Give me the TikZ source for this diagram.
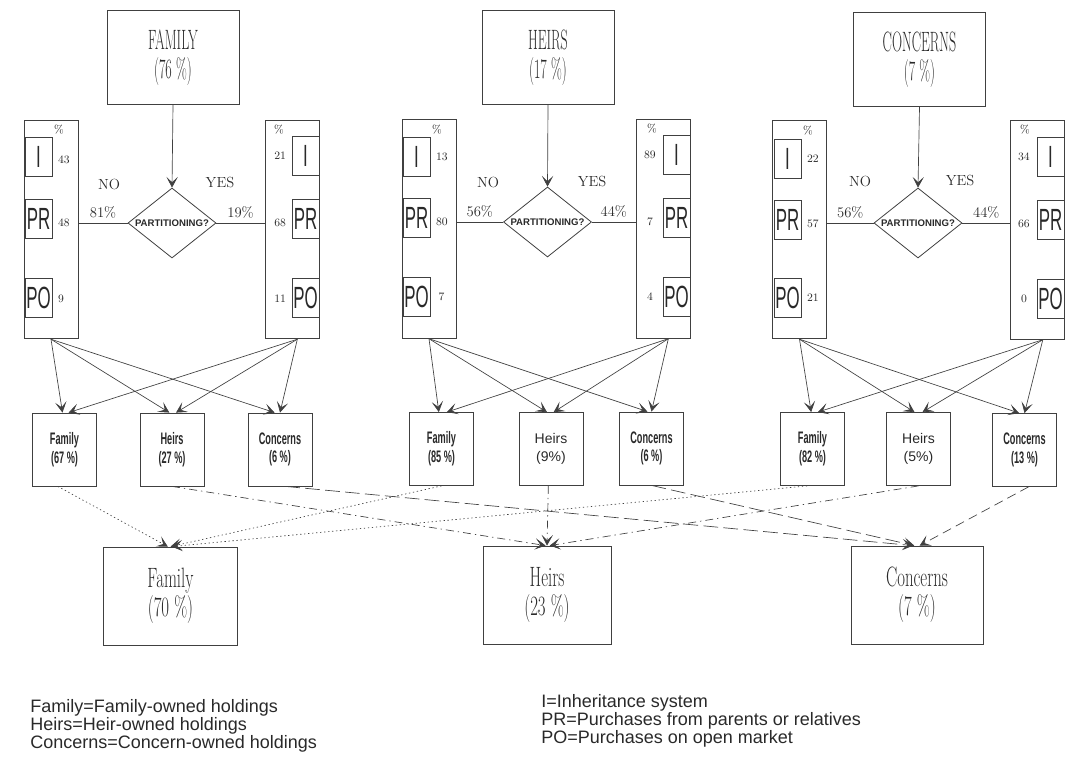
\documentclass[tikz,border=0pt]{standalone}
\usepackage{fontspec}
\usepackage{tikz}
\usetikzlibrary{positioning,arrows.meta,shapes.geometric}
\newfontfamily\tallserif{lmroman17-regular.otf}[FakeStretch=0.5]
\newfontfamily\wideserif{lmroman17-regular.otf}[FakeStretch=0.6]
\newfontfamily\cellsans{Liberation Sans}[FakeStretch=0.55]
\newfontfamily\plainsans{Liberation Sans}
\definecolor{ink}{gray}{0.25}
\definecolor{txt}{gray}{0.16}
\tikzset{
  ownerbox/.style={draw=ink, line width=0.6pt, minimum width=99pt, minimum height=71pt, align=center, text=txt,
                   font=\tallserif\fontsize{21}{21.5}\selectfont},
  colbox/.style={draw=ink, line width=0.6pt, minimum width=40.5pt, minimum height=164pt},
  cell/.style={draw=ink, line width=0.6pt, minimum width=20.25pt, minimum height=29.25pt, inner sep=0pt, text=txt,
               font=\cellsans\fontsize{23}{23}\selectfont},
  num/.style={inner sep=0pt, text=txt, font=\fontsize{8.5}{9}\selectfont},
  lbl/.style={inner sep=0pt, text=txt, font=\fontsize{11}{12}\selectfont},
  decide/.style={diamond, draw=ink, line width=0.6pt, minimum width=66pt, minimum height=52.5pt, inner sep=0pt},
  asks/.style={inner sep=0pt, text=txt, font=\plainsans\bfseries\fontsize{7.2}{8}\selectfont},
  smallbox/.style={draw=ink, line width=0.6pt, minimum width=48pt, minimum height=54.75pt, align=center, text=txt,
                   font=\cellsans\bfseries\fontsize{12.5}{14}\selectfont},
  smallplain/.style={smallbox, font=\plainsans\fontsize{10.5}{14}\selectfont},
  resultbox/.style={draw=ink, line width=0.6pt, minimum width=100pt, minimum height=73.5pt, align=center, text=txt,
                    font=\wideserif\fontsize{21}{22}\selectfont},
  legend/.style={inner sep=0pt, anchor=base west, text=txt, font=\plainsans\fontsize{13.5}{14}\selectfont},
  link/.style={draw=ink, line width=0.5pt},
  flow/.style={link, -{Stealth[length=8pt, width=8.5pt, inset=4pt]}},
  famline/.style={flow, dash pattern=on 1pt off 2pt},
  heirline/.style={flow, dash pattern=on 6pt off 3pt on 1pt off 3pt},
  concline/.style={flow, dash pattern=on 11pt off 4pt},
}
\begin{document}
\begin{tikzpicture}[x=0.75pt, y=-0.75pt]
  \useasboundingbox (0,0) rectangle (1071,759);

  % owners before the transfer
  \node[ownerbox] (topF) at (173,57.5) {FAMILY\\(76 \%)};
  \node[ownerbox] (topH) at (548,57.5) {HEIRS\\(17 \%)};
  \node[ownerbox] (topC) at (919.5,59.5) {CONCERNS\\(7 \%)};

  % partitioning questions
  \node[decide] (d1) at (172,223) {};
  \node[decide] (d2) at (547.5,222) {};
  \node[decide] (d3) at (918,223) {};
  \node[asks] (q1) at (d1) {PARTITIONING?};
  \node[asks] (q2) at (d2) {PARTITIONING?};
  \node[asks] (q3) at (d3) {PARTITIONING?};
  \draw[flow] (topF.south) -- (d1.north);
  \draw[flow] (topH.south) -- (d2.north);
  \draw[flow] (topC.south) -- (d3.north);

  \node[lbl] (no1) at (109,184) {NO};
  \node[lbl] (yes1) at (220,182) {YES};
  \node[lbl] (no2) at (488,182) {NO};
  \node[lbl] (yes2) at (592,181) {YES};
  \node[lbl] (no3) at (860,181) {NO};
  \node[lbl] (yes3) at (960,180) {YES};

  % group 1: family
  \node[colbox] (c1l) at (51,229.5) {};
  \node[colbox] (c1r) at (292,229.5) {};
  \node[num] (p1l) at (59,130) {\%};
  \node[num] (p1r) at (279,130) {\%};
  \node[cell] (i1l) at (38.5,157) {I};
  \node[cell] (r1l) at (38.5,218.5) {PR};
  \node[cell] (o1l) at (38.5,297.5) {PO};
  \node[cell] (i1r) at (305.5,156) {I};
  \node[cell] (r1r) at (305.5,218.5) {PR};
  \node[cell] (o1r) at (305.5,297.5) {PO};
  \node[num, right=4pt of i1l, yshift=-2pt] (n1a) {43};
  \node[num, right=4pt of r1l, yshift=-3pt] (n1b) {48};
  \node[num, right=4pt of o1l, yshift=-1pt] (n1c) {9};
  \node[num, left=4pt of i1r] (n1d) {21};
  \node[num, left=4pt of r1r, yshift=-3pt] (n1e) {68};
  \node[num, left=4pt of o1r, yshift=-1pt] (n1f) {11};
  \draw[link] (d1.west) -- (d1.west -| c1l.east) node[midway, above=3pt, lbl] (s1) {81\%};
  \draw[link] (d1.east) -- (d1.east -| c1r.west) node[midway, above=3pt, lbl] (t1) {19\%};

  % group 2: heirs
  \node[colbox] (c2l) at (429,229) {};
  \node[colbox] (c2r) at (663,229) {};
  \node[num] (p2l) at (437,130) {\%};
  \node[num] (p2r) at (652,129) {\%};
  \node[cell] (i2l) at (416.5,157) {I};
  \node[cell] (r2l) at (416.5,218) {PR};
  \node[cell] (o2l) at (416.5,297) {PO};
  \node[cell] (i2r) at (676.5,155) {I};
  \node[cell] (r2r) at (676.5,218) {PR};
  \node[cell] (o2r) at (676.5,297) {PO};
  \node[num, right=4pt of i2l] (n2a) {13};
  \node[num, right=4pt of r2l, yshift=-3pt] (n2b) {80};
  \node[num, right=6pt of o2l] (n2c) {7};
  \node[num, left=5pt of i2r] (n2d) {89};
  \node[num, left=7pt of r2r, yshift=-3pt] (n2e) {7};
  \node[num, left=7pt of o2r] (n2f) {4};
  \draw[link] (d2.west) -- (d2.west -| c2l.east) node[midway, above=3pt, lbl] (s2) {56\%};
  \draw[link] (d2.east) -- (d2.east -| c2r.west) node[midway, above=3pt, lbl] (t2) {44\%};

  % group 3: concerns
  \node[colbox] (c3l) at (799.5,229.5) {};
  \node[colbox] (c3r) at (1037.5,230) {};
  \node[num] (p3l) at (808,131) {\%};
  \node[num] (p3r) at (1025,130) {\%};
  \node[cell] (i3l) at (787.5,159) {I};
  \node[cell] (r3l) at (787.5,219.5) {PR};
  \node[cell] (o3l) at (787.5,298) {PO};
  \node[cell] (i3r) at (1050.5,157) {I};
  \node[cell] (r3r) at (1050.5,220) {PR};
  \node[cell] (o3r) at (1050.5,299) {PO};
  \node[num, right=4pt of i3l] (n3a) {22};
  \node[num, right=4pt of r3l, yshift=-3pt] (n3b) {57};
  \node[num, right=4pt of o3l] (n3c) {21};
  \node[num, left=5pt of i3r] (n3d) {34};
  \node[num, left=5pt of r3r, yshift=-3pt] (n3e) {66};
  \node[num, left=7pt of o3r] (n3f) {0};
  \draw[link] (d3.west) -- (d3.west -| c3l.east) node[midway, above=3pt, lbl] (s3) {56\%};
  \draw[link] (d3.east) -- (d3.east -| c3r.west) node[midway, above=3pt, lbl] (t3) {44\%};

  % owners after the transfer
  \node[smallbox] (f1) at (64.5,449.5) {Family\\(67 \%)};
  \node[smallbox] (h1) at (172,449.5) {Heirs\\(27 \%)};
  \node[smallbox] (k1) at (280,449.5) {Concerns\\(6 \%)};
  \node[smallbox] (f2) at (441.5,449) {Family\\(85 \%)};
  \node[smallplain] (h2) at (551,449) {Heirs\\(9\%)};
  \node[smallbox] (k2) at (651.5,448.5) {Concerns\\(6 \%)};
  \node[smallbox] (f3) at (812.5,449) {Family\\(82 \%)};
  \node[smallplain] (h3) at (918.5,449) {Heirs\\(5\%)};
  \node[smallbox] (k3) at (1024.5,450) {Concerns\\(13 \%)};

  \draw[flow] (c1l.south) -- ([xshift=-1.5pt]f1.north);
  \draw[flow] (c1l.south) -- ([xshift=-2pt]h1.north);
  \draw[flow] (c1l.south) -- ([xshift=-4pt]k1.north);
  \draw[flow] ([xshift=4pt]c1r.south) -- ([xshift=3pt]f1.north);
  \draw[flow] ([xshift=4pt]c1r.south) -- ([xshift=3pt]h1.north);
  \draw[flow] ([xshift=4pt]c1r.south) -- ([xshift=0pt]k1.north);
  \draw[flow] (c2l.south) -- ([xshift=-2pt]f2.north);
  \draw[flow] (c2l.south) -- ([xshift=-3pt]h2.north);
  \draw[flow] (c2l.south) -- ([xshift=-3pt]k2.north);
  \draw[flow] ([xshift=4pt]c2r.south) -- ([xshift=4pt]f2.north);
  \draw[flow] ([xshift=4pt]c2r.south) -- ([xshift=2pt]h2.north);
  \draw[flow] ([xshift=4pt]c2r.south) -- ([xshift=0pt]k2.north);
  \draw[flow] (c3l.south) -- ([xshift=-1pt]f3.north);
  \draw[flow] (c3l.south) -- ([xshift=-3pt]h3.north);
  \draw[flow] (c3l.south) -- ([xshift=-4pt]k3.north);
  \draw[flow] ([xshift=4pt]c3r.south) -- ([xshift=4pt]f3.north);
  \draw[flow] ([xshift=4pt]c3r.south) -- ([xshift=3pt]h3.north);
  \draw[flow] ([xshift=4pt]c3r.south) -- ([xshift=0pt]k3.north);

  % final shares
  \node[resultbox] (e1) at (170.5,596) {Family\\(70 \%)};
  \node[resultbox, minimum width=96pt] (e2) at (547,595) {Heirs\\(23 \%)};
  \node[resultbox, minimum width=99pt] (e3) at (917,595) {Concerns\\(7 \%)};

  \draw[famline] ([xshift=-5pt]f1.south) -- ([xshift=-2pt]e1.north);
  \draw[famline] (f2.south) -- (e1.north);
  \draw[famline] ([xshift=-4pt]f3.south) -- ([xshift=1pt]e1.north);
  \draw[heirline] (h1.south) -- ([xshift=-1pt]e2.north);
  \draw[heirline] ([xshift=-2pt]h2.south) -- (e2.north);
  \draw[heirline] (h3.south) -- ([xshift=2pt]e2.north);
  \draw[concline] ([xshift=4pt]k1.south) -- ([xshift=-3pt]e3.north);
  \draw[concline] (k2.south) -- ([xshift=-2pt]e3.north);
  \draw[concline, dash pattern=on 7pt off 4pt] ([xshift=3pt]k3.south) -- ([xshift=2pt]e3.north);

  % key
  \node[legend] (leg1) at (30,712) {Family=Family-owned holdings};
  \node[legend] (leg2) at (30,730) {Heirs=Heir-owned holdings};
  \node[legend] (leg3) at (30,748) {Concerns=Concern-owned holdings};
  \node[legend] (leg4) at (541,707) {I=Inheritance system};
  \node[legend] (leg5) at (541,725) {PR=Purchases from parents or relatives};
  \node[legend] (leg6) at (541,743) {PO=Purchases on open market};
\end{tikzpicture}
\end{document}
